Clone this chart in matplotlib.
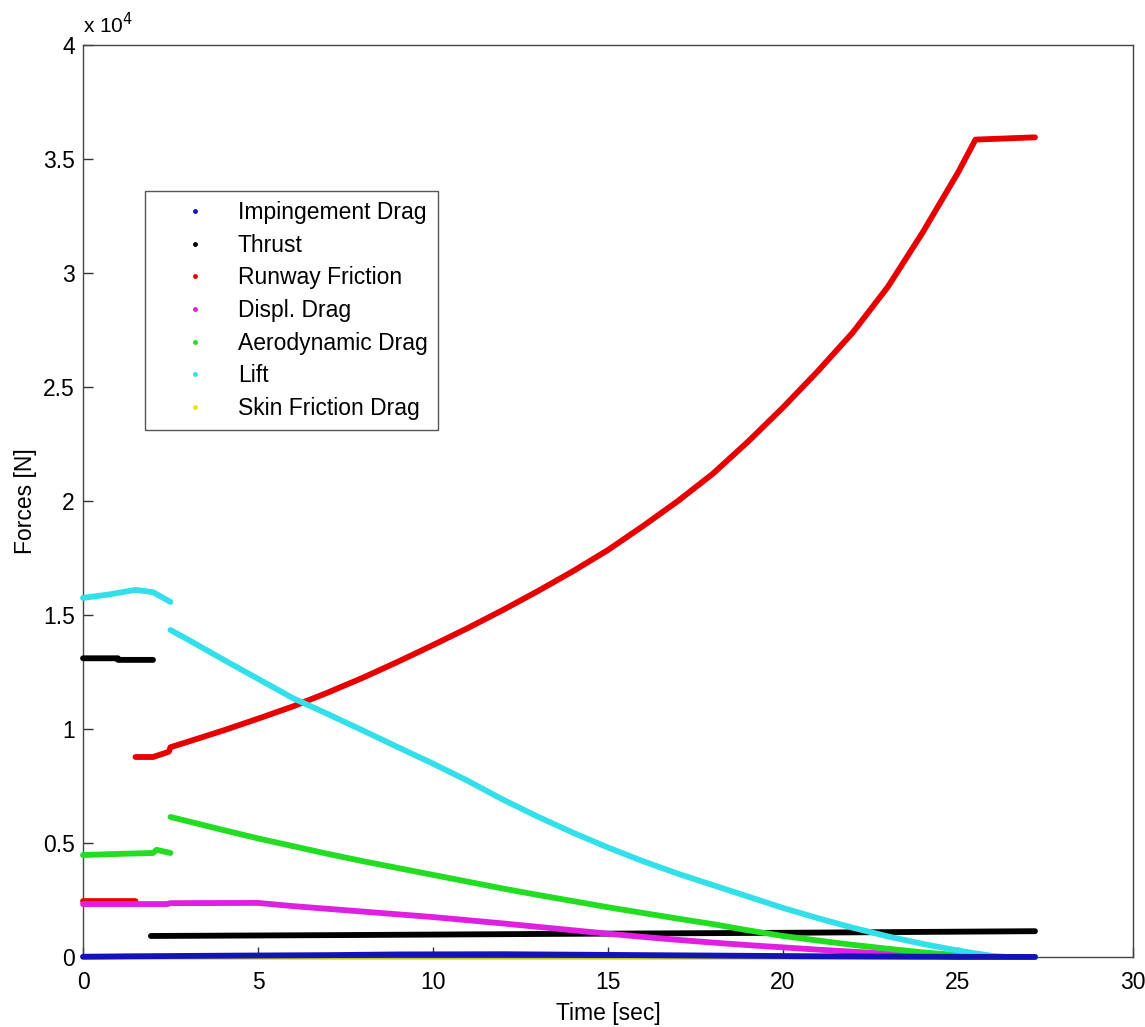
import numpy as np
import matplotlib
matplotlib.use('Agg')
import matplotlib.pyplot as plt
from matplotlib.lines import Line2D
from matplotlib.ticker import FuncFormatter

plt.rcParams['font.family'] = ['Liberation Sans', 'DejaVu Sans']

nan = float('nan')

# Forces in N, time in sec (nan breaks a curve into segments)
impingement_t = [0, 1.4, 4.5, 7.0, 9.0, 12.0, 15.0, 18.0, 21.0, 24.0, 27.2]
impingement_f = [10, 30, 60, 80, 110, 120, 90, 60, 30, 10, 0]

thrust_t = [0, 1.0, 1.0, 2.0, nan, 1.94, 7.4, 13.3, 20.0, 25.1, 27.2]
thrust_f = [13100, 13100, 13030, 13030, nan, 920, 960, 1010, 1060, 1110, 1130]

runway_t = [0, 1.5, nan, 1.5, 2.0, 2.45, 2.5, 3, 4, 5, 6, 7, 8, 9, 10, 11, 12, 13,
            14, 15, 16, 17, 18, 19, 20, 21, 22, 23, 24, 25, 25.5, 27.2]
runway_f = [2450, 2450, nan, 8770, 8770, 9000, 9200, 9440, 9930, 10450, 10990,
            11600, 12250, 12950, 13680, 14430, 15220, 16050, 16920, 17850, 18900,
            20000, 21200, 22600, 24100, 25700, 27400, 29400, 31800, 34400, 35850,
            35950]

displ_t = [0, 2.4, 2.5, 5, 6, 7, 8, 9, 10, 11, 12, 13, 14, 15, 16, 17, 18, 19,
           20, 21, 22, 23, 24, 25, 27.2]
displ_f = [2320, 2320, 2360, 2370, 2230, 2110, 1990, 1870, 1750, 1610, 1470,
           1320, 1170, 1020, 880, 750, 630, 520, 420, 320, 230, 140, 60, 0, 0]

aero_t = [0, 1.0, 2.0, 2.1, 2.5, nan, 2.5, 3, 4, 5, 6, 7, 8, 9, 10, 11, 12, 13,
          14, 15, 16, 17, 18, 19, 20, 21, 22, 23, 24, 25, 25.7, 27.2]
aero_f = [4470, 4520, 4560, 4700, 4560, nan, 6140, 5950, 5570, 5200, 4860,
          4520, 4200, 3900, 3600, 3300, 3000, 2720, 2450, 2180, 1930, 1680,
          1440, 1170, 920, 720, 530, 360, 200, 80, 0, 0]

lift_t = [0, 0.75, 1.5, 2.0, 2.5, nan, 2.5, 3, 4, 5, 6, 7, 8, 9, 10, 11, 12, 13,
          14, 15, 16, 17, 18, 19, 20, 21, 22, 23, 24, 25, 26, 26.4, 27.2]
lift_f = [15750, 15900, 16100, 16000, 15570, nan, 14340, 13920, 13050, 12200,
          11350, 10650, 9930, 9200, 8480, 7720, 6900, 6150, 5450, 4800, 4200,
          3650, 3150, 2650, 2150, 1700, 1280, 900, 570, 280, 40, 0, 0]

skin_t = [0, 27.2]
skin_f = [0, 0]

labels = ['Impingement Drag', 'Thrust', 'Runway Friction', 'Displ. Drag',
          'Aerodynamic Drag', 'Lift', 'Skin Friction Drag']
colors = ['#1414b4', '#000000', '#e60000', '#e020e0', '#22dd22', '#33e0ea', '#e8e800']

series = [(impingement_t, impingement_f), (thrust_t, thrust_f), (runway_t, runway_f),
          (displ_t, displ_f), (aero_t, aero_f), (lift_t, lift_f), (skin_t, skin_f)]

fig = plt.figure(figsize=(11.45, 10.27), dpi=100)
ax = fig.add_axes([0.0725, 0.0682, 0.917, 0.888])

zorders = [4, 3, 3, 3, 3, 3, 2]
for (t, f), c, z in zip(series, colors, zorders):
    ax.plot(t, f, color=c, lw=4.2, solid_capstyle='round', solid_joinstyle='round',
            clip_on=False, zorder=z)

ax.set_xlim(0, 30)
ax.set_ylim(0, 40000)
ax.set_xticks(np.arange(0, 31, 5))
ax.set_yticks(np.arange(0, 40001, 5000))
ax.yaxis.set_major_formatter(FuncFormatter(lambda v, p: f'{v / 1e4:g}'))
ax.tick_params(direction='in', length=7, width=1, labelsize=16.5, color='#333333',
               pad=6)
ax.tick_params(axis='x', pad=10)
for sp in ax.spines.values():
    sp.set_color('#444444')
    sp.set_linewidth(1)

ax.text(0.0, 1.008, r'x 10$^{4}$', transform=ax.transAxes, fontsize=15,
        ha='left', va='bottom')

ax.set_xlabel('Time [sec]', fontsize=16.5, labelpad=6)
ax.set_ylabel('Forces [N]', fontsize=16.5, labelpad=4)

handles = [Line2D([], [], ls='none', marker='.', markersize=5, color=c) for c in colors]
leg = ax.legend(handles, labels, loc='upper left', bbox_to_anchor=(0.059, 0.840),
                fontsize=16.5, frameon=True, fancybox=False, framealpha=1,
                edgecolor='#555555', borderpad=0.45, labelspacing=0.42,
                handlelength=3.5, handletextpad=0.1, borderaxespad=0)
leg.get_frame().set_linewidth(1)

fig.savefig('out.png', dpi=100)
